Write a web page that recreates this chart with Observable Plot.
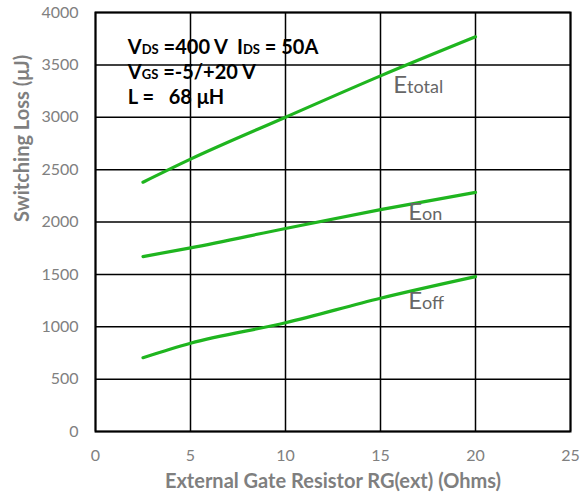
<!DOCTYPE html>
<html>
<head>
<meta charset="utf-8">
<script src="https://cdn.jsdelivr.net/npm/d3@7"></script>
<script src="https://cdn.jsdelivr.net/npm/@observablehq/plot@0.6"></script>
<style>
  html, body { margin: 0; padding: 0; background: #fff; }
  #chart text { white-space: pre; }
</style>
</head>
<body>
<div id="chart"></div>
<script>
// ---- data ----
const rg = [2.5, 5, 10, 15, 20];
const eTotal = [2380, 2600, 3000, 3395, 3768];
const eOn = [1670, 1753, 1938, 2118, 2283];
const eOff = [705, 843, 1038, 1272, 1478];
const seriesNames = ["Etotal", "Eon", "Eoff"];
const xTicks = [0, 5, 10, 15, 20, 25];
const yTicks = [0, 500, 1000, 1500, 2000, 2500, 3000, 3500, 4000];
const xLabel = "External Gate Resistor RG(ext) (Ohms)";
const yLabel = "Switching Loss (μJ)";
const conditionLines = ["VDS =400 V  IDS = 50A", "VGS =-5/+20 V", "L =   68 μH"];
const conditionX = [1.7, 1.7, 1.7];
const conditionY = [3607, 3368, 3125];
const seriesLabelX = [15.67, 16.46, 16.46];
const seriesLabelY = [3232, 2018, 1174];

const seriesValues = [eTotal, eOn, eOff];
const rows = seriesNames.flatMap((name, i) => rg.map((x, j) => ({series: name, x, y: seriesValues[i][j]})));
const condRows = conditionLines.map((t, i) => ({t, x: conditionX[i], y: conditionY[i]}));
const labelRows = seriesNames.map((t, i) => ({t, x: seriesLabelX[i], y: seriesLabelY[i]}));

const chart = Plot.plot({
  width: 585,
  height: 498,
  marginLeft: 95,
  marginRight: 15,
  marginTop: 12,
  marginBottom: 67,
  style: {fontFamily: "Lato, 'Open Sans', sans-serif", background: "#fff"},
  x: {domain: [0, 25]},
  y: {domain: [0, 4000]},
  marks: [
    Plot.ruleX(xTicks, {stroke: "#000", strokeWidth: 1.5}),
    Plot.ruleY(yTicks, {stroke: "#000", strokeWidth: 1.5}),
    Plot.frame({stroke: "#000", strokeWidth: 2}),
    Plot.axisX({ticks: xTicks, tickFormat: d => String(d), tickSize: 0, tickPadding: 18, fontSize: 16, fill: "#808080", label: null}),
    Plot.axisY({ticks: yTicks, tickFormat: d => String(d), tickSize: 0, tickPadding: 17, fontSize: 16, fill: "#808080", label: null}),
    Plot.text([xLabel], {frameAnchor: "bottom", dy: 56, fontSize: 20, fontWeight: "bold", fill: "#7f7f7f"}),
    Plot.text([yLabel], {frameAnchor: "left", dx: -73, rotate: -90, fontSize: 20, fontWeight: "bold", fill: "#7f7f7f"}),
    Plot.line(rows, {x: "x", y: "y", z: "series", stroke: "#1fb51f", strokeWidth: 3.2, curve: "monotone-x"}),
    Plot.text(condRows, {x: "x", y: "y", text: "t", textAnchor: "start", lineAnchor: "bottom", fontSize: 20, fontWeight: "bold", fill: "#000", className: "cond"}),
    Plot.text(labelRows, {x: "x", y: "y", text: "t", textAnchor: "start", lineAnchor: "bottom", fontSize: 24, fill: "#666666", className: "slabel"})
  ]
});
document.getElementById("chart").appendChild(chart);

// rich text: subscripts for conditions, small suffix for series labels
d3.select(chart).selectAll(".cond text").each(function () {
  const s = this.textContent;
  const parts = s.split(/(DS|GS)/);
  this.textContent = "";
  const el = d3.select(this);
  parts.forEach(p => {
    if (!p) return;
    const ts = el.append("tspan").text(p);
    if (p === "DS" || p === "GS") ts.attr("font-size", 13);
  });
});
d3.select(chart).selectAll(".slabel text").each(function () {
  const s = this.textContent;
  this.textContent = "";
  const el = d3.select(this);
  el.append("tspan").text(s[0]);
  el.append("tspan").text(s.slice(1)).attr("font-size", 18);
});
</script>
</body>
</html>
